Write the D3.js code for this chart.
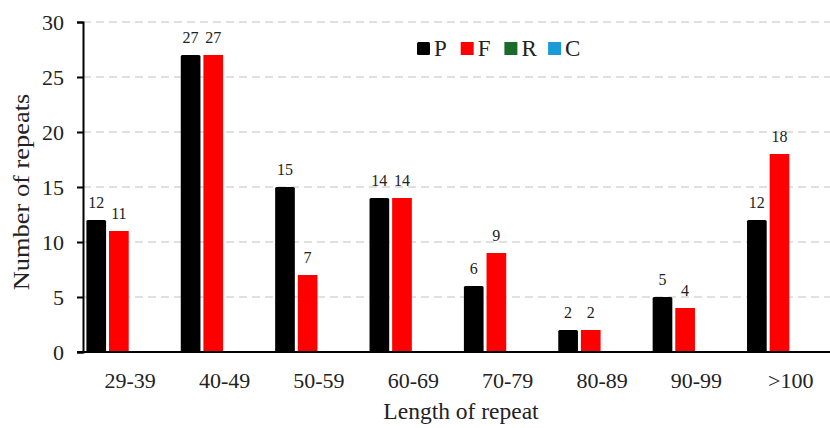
<!DOCTYPE html>
<html>
<head>
<meta charset="utf-8">
<script src="https://cdn.jsdelivr.net/npm/d3@7.9.0/dist/d3.min.js"></script>
<style>
  body { margin: 0; background: #fff; }
  text { font-family: "Liberation Serif", "Times New Roman", serif; fill: #222; }
</style>
</head>
<body>
<svg id="chart" width="830" height="428"></svg>
<script>
// data
const categories = ['29-39', '40-49', '50-59', '60-69', '70-79', '80-89', '90-99', '>100'];
const series     = ['P', 'F', 'R', 'C'];
const valuesP    = [12, 27, 15, 14, 6, 2, 5, 12];
const valuesF    = [11, 27, 7, 14, 9, 2, 4, 18];
const valuesR    = [0, 0, 0, 0, 0, 0, 0, 0];
const valuesC    = [0, 0, 0, 0, 0, 0, 0, 0];
const yTicks     = [0, 5, 10, 15, 20, 25, 30];
const colors     = { P: '#000000', F: '#ff0000', R: '#1a6b2a', C: '#1a9ad6' };

const valuesBySeries = { P: valuesP, F: valuesF, R: valuesR, C: valuesC };

const svg = d3.select('#chart');
const plotLeft = 83, plotRight = 838, plotTop = 22, plotBottom = 352;

const x0 = d3.scaleBand().domain(categories).range([plotLeft, plotRight]);
const x1 = d3.scaleBand().domain(series).range([0, x0.bandwidth()])
  .paddingInner(0.13).paddingOuter(0.15);
const y = d3.scaleLinear().domain([0, 30]).range([plotBottom, plotTop]);

/* ---- gridlines ---- */
svg.append('g')
  .selectAll('line')
  .data(yTicks.filter(d => d > 0))
  .enter().append('line')
    .attr('x1', plotLeft).attr('x2', 830)
    .attr('y1', d => y(d)).attr('y2', d => y(d))
    .attr('stroke', '#d6d6d6')
    .attr('stroke-width', 1.5)
    .attr('stroke-dasharray', '8,5');

/* ---- bars ---- */
const groups = svg.append('g')
  .selectAll('g')
  .data(categories)
  .enter().append('g')
    .attr('transform', d => `translate(${x0(d)},0)`);

const cells = (c, i) => series.map(s => ({ s, v: valuesBySeries[s][i] })).filter(d => d.v > 0);

groups.selectAll('rect')
  .data(cells)
  .enter().append('rect')
    .attr('x', d => x1(d.s))
    .attr('y', d => y(d.v))
    .attr('width', x1.bandwidth())
    .attr('height', d => plotBottom - y(d.v))
    .attr('rx', d => d.s === 'P' ? 1.5 : 0)
    .attr('fill', d => colors[d.s]);

groups.selectAll('text')
  .data(cells)
  .enter().append('text')
    .attr('x', d => x1(d.s) + x1.bandwidth() / 2)
    .attr('y', d => y(d.v) - 12)
    .attr('text-anchor', 'middle')
    .attr('font-size', 16)
    .text(d => d.v);

/* ---- axes ---- */
const yAxis = svg.append('g')
  .attr('transform', `translate(${plotLeft},0)`)
  .call(d3.axisLeft(y).tickValues(yTicks).tickSize(6).tickPadding(13));
yAxis.select('.domain').attr('stroke', '#000').attr('stroke-width', 2);
yAxis.selectAll('.tick line').attr('stroke', '#000').attr('stroke-width', 2);
yAxis.selectAll('.tick text').attr('font-size', 22).attr('font-family', '"Liberation Serif", serif').attr('fill', '#222');

svg.append('line')
  .attr('x1', plotLeft - 6).attr('x2', 830)
  .attr('y1', plotBottom).attr('y2', plotBottom)
  .attr('stroke', '#000').attr('stroke-width', 2);

svg.append('g')
  .selectAll('text')
  .data(categories)
  .enter().append('text')
    .attr('x', d => x0(d) + x0.bandwidth() / 2)
    .attr('y', 388)
    .attr('text-anchor', 'middle')
    .attr('font-size', 22)
    .text(d => d);

/* ---- axis titles ---- */
svg.append('text')
  .attr('x', 461).attr('y', 419)
  .attr('text-anchor', 'middle')
  .attr('font-size', 23.5)
  .text('Length of repeat');

// the source image is a little stretched vertically
svg.append('text')
  .attr('transform', 'translate(29,192) scale(1,1.15) rotate(-90)')
  .attr('text-anchor', 'middle')
  .attr('font-size', 23)
  .text('Number of repeats');

/* ---- legend ---- */
const legend = svg.append('g')
  .selectAll('g')
  .data(series)
  .enter().append('g')
    .attr('transform', (d, i) => `translate(${417 + i * 43.7},42)`);
legend.append('rect')
  .attr('width', 13).attr('height', 13)
  .attr('rx', d => d === 'P' ? 1.5 : 0)
  .attr('fill', d => colors[d]);
legend.append('text')
  .attr('x', 17).attr('y', 14)
  .attr('font-size', 23)
  .text(d => d);
</script>
</body>
</html>
